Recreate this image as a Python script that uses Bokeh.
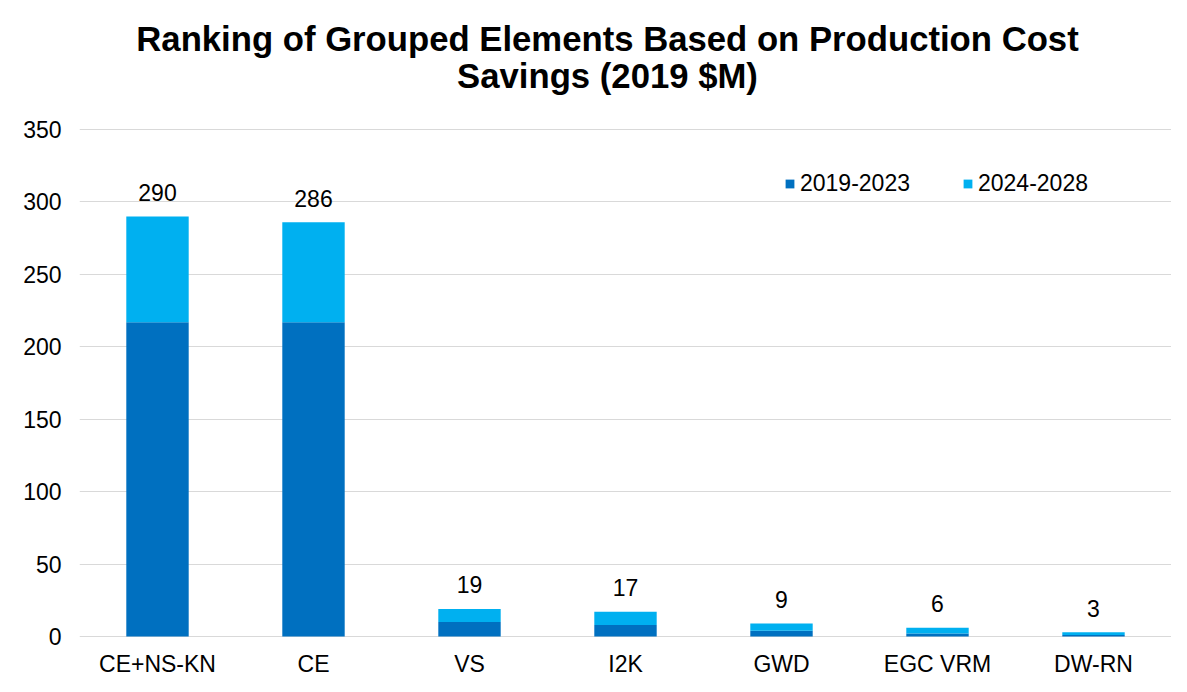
from bokeh.plotting import figure
from bokeh.models import Legend, LegendItem, ColumnDataSource, Label
from bokeh.core.properties import value
from bokeh.embed import file_html
from bokeh.resources import INLINE

categories = ["CE+NS-KN", "CE", "VS", "I2K", "GWD", "EGC VRM", "DW-RN"]
period_2019_2023 = [217, 217, 10, 8, 4, 2, 1]
period_2024_2028 = [73, 69, 9, 9, 5, 4, 2]
totals = [290, 286, 19, 17, 9, 6, 3]
series_names = ["2019-2023", "2024-2028"]
y_ticks = [0, 50, 100, 150, 200, 250, 300, 350]
y_max = 350
title_lines = ["Ranking of Grouped Elements Based on Production Cost", "Savings (2019 $M)"]

DARK = "#0070C0"
LIGHT = "#00B0F0"
GRID = "#d9d9d9"
FONT = "Liberation Sans"

# layout (pixels)
W, H = 1171, 676
LEFT = 79
PX_TOP = 129      # pixel row of the y_max gridline
PX_ZERO = 636     # pixel row of the zero line
scale = (PX_ZERO - PX_TOP) / y_max
y_start = -(H - PX_ZERO) / scale
y_end = PX_ZERO / scale


def yval(py):
    return (PX_ZERO - py) / scale


cat_w = (W - LEFT) / len(categories)
title_x = (607 - LEFT) / cat_w

source = ColumnDataSource(data=dict(
    cat=categories,
    a=period_2019_2023,
    b=period_2024_2028,
    total=totals,
    label=[str(t) for t in totals],
    zero=[0] * len(categories),
))

p = figure(x_range=categories, y_range=(y_start, y_end), width=W, height=H,
           output_backend="svg", toolbar_location=None, x_axis_location=None,
           min_border_left=LEFT, min_border_right=0, min_border_top=0, min_border_bottom=0)
p.title = None
p.outline_line_color = None
p.background_fill_color = "white"
p.border_fill_color = "white"

p.xgrid.grid_line_color = None
p.ygrid.ticker = y_ticks
p.ygrid.grid_line_color = GRID
p.ygrid.grid_line_width = 1

rs = p.vbar_stack(["a", "b"], x="cat", width=0.4, source=source,
                  color=[DARK, LIGHT], line_color=None)

# value labels
p.text(x="cat", y="total", text="label", source=source,
       text_align="center", text_baseline="middle", y_offset=-24,
       text_font=value(FONT), text_font_size="23px", text_color="#000000")

# category labels (x axis)
p.text(x="cat", y="zero", text="cat", source=source,
       text_align="center", text_baseline="middle", y_offset=27,
       text_font=value(FONT), text_font_size="23px", text_color="#000000")

p.yaxis.ticker = y_ticks
p.yaxis.axis_line_color = None
p.yaxis.major_tick_line_color = None
p.yaxis.minor_tick_line_color = None
p.yaxis.major_tick_in = 0
p.yaxis.major_tick_out = 0
p.yaxis.major_label_standoff = 18
p.yaxis.major_label_text_font = FONT
p.yaxis.major_label_text_font_size = "23px"
p.yaxis.major_label_text_color = "#000000"

legend = Legend(items=[LegendItem(label=series_names[0], renderers=[rs[0]]),
                       LegendItem(label=series_names[1], renderers=[rs[1]])],
                orientation="horizontal", location=(705, 479),
                glyph_width=11, glyph_height=11, label_standoff=5, spacing=52,
                padding=0, margin=0, border_line_color=None,
                background_fill_alpha=0,
                label_text_font=FONT, label_text_font_size="23px",
                label_text_color="#000000", label_height=22)
p.add_layout(legend, "center")

for txt, py in zip(title_lines, [38.5, 75.5]):
    p.add_layout(Label(x=title_x, y=yval(py), text=txt,
                       text_align="center", text_baseline="middle",
                       text_font=FONT, text_font_size="34.7px", text_font_style="bold",
                       text_color="#000000"))

open("out.html", "w").write(file_html(p, INLINE))
